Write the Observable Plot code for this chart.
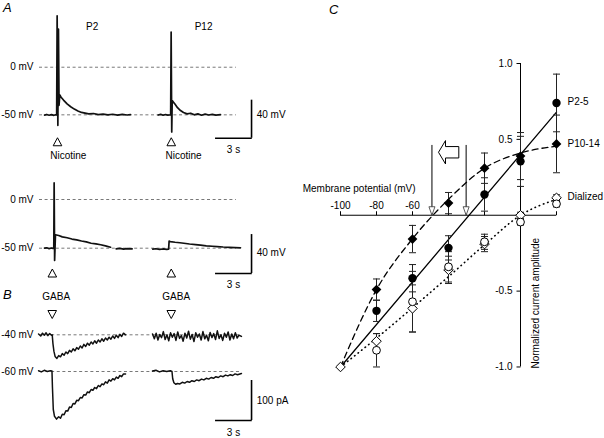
<!DOCTYPE html>
<html><head><meta charset="utf-8">
<script src="https://cdn.jsdelivr.net/npm/d3@7"></script>
<script src="https://cdn.jsdelivr.net/npm/@observablehq/plot@0.6"></script>
<style>
body{margin:0;background:#fff;}
#fig{position:relative;width:604px;height:438px;overflow:hidden;font-family:"Liberation Sans",Arial,sans-serif;background:#fff;}
.panel{position:absolute;font-style:italic;font-size:13px;line-height:1;}
</style></head><body>
<div id="fig">
<div class="panel" style="left:3px;top:1px">A</div>
<div class="panel" style="left:3px;top:288px">B</div>
<div class="panel" style="left:329px;top:3px">C</div>
</div>
<script>
// ---------- Panel A (membrane potential, mV; time, s) ----------
const aLevels = [0, -50];
const aLevelLabels = ["0 mV", "-50 mV"];
const aTopNames = ["P2", "P12"];
const aTopNameT = [4.39, 13.67];
const aTopStimT = [1.5, 10.98];
const aBotStimT = [1.07, 10.98];
const nicotineT = [2.4, 12.0];

const aTopP2T = [0.42,0.6,0.8,1.0,1.2,1.35,1.43,1.47,1.53,1.58,1.63,1.69,1.8,2.0,2.3,2.6,2.9,3.2,3.5,3.8,4.1,4.5,4.9,5.3,5.7,6.1,6.5,6.9,7.3,7.58];
const aTopP2V = [-50.3,-49.6,-50.4,-49.8,-50.5,-49.9,-50,54,-61,40,-40,-29,-31.5,-34.5,-38.5,-41.5,-44,-46,-47.5,-48.2,-49,-48.6,-49.8,-49.2,-50.1,-49.4,-50.3,-49.5,-50.2,-49.8];
const aTopP12T = [9.89,10.1,10.3,10.5,10.7,10.88,10.93,10.97,11.02,11.06,11.15,11.3,11.5,11.75,12.0,12.3,12.6,12.9,13.2,13.5,13.8,14.1,14.4,14.7,15.08];
const aTopP12V = [-50.2,-49.5,-50.4,-49.7,-50.3,-49.9,-50,37,-68,-35,-36.5,-39,-42.5,-45.5,-47.5,-49,-48.3,-50,-49,-50.4,-49.3,-50.2,-49.5,-50.3,-49.8];

const aBot1aT = [0.42,0.6,0.8,1.0,1.12,1.19,1.22,1.26,1.33,1.6,1.9,2.3,2.7,3.1,3.5,3.9,4.3,4.7,5.1,5.5,5.92];
const aBot1aV = [-50,-49.6,-50.4,-49.8,-50.2,-50,17,-62.6,-36.2,-37,-38.4,-39.3,-40.6,-41.4,-42.6,-43.5,-44.9,-45.6,-46.5,-47.6,-49];
const aBot1bT = [6.39,6.7,7.0,7.3,7.72];
const aBot1bV = [-50.7,-50.2,-51,-50.4,-50.8];
const aBot2T = [9.44,9.7,10.0,10.3,10.6,10.76,10.8,10.9,11.3,11.7,12.03,12.5,13.0,13.42,13.9,14.4,14.8,15.3,15.8,16.3,16.75];
const aBot2V = [-51,-50.6,-51.3,-50.8,-51.2,-51,-42.8,-43.2,-43.9,-44.4,-44.9,-45.7,-46.3,-46.9,-47.6,-48,-48.3,-48.8,-49.1,-49.4,-49.6];

// ---------- Panel B (current, pA; time, s) ----------
const gabaT = [1.06, 10.98];
const gabaLabelT = [1.39, 11.39];
const b40aT = [-0.08,0.1,0.25,0.4,0.55,0.7,0.85,1.0,1.06,1.12,1.2,1.3,1.45,1.6,1.75,1.9,2.05,2.2,2.35,2.5,2.65,2.8,2.95,3.1,3.25,3.4,3.55,3.7,3.85,4.0,4.15,4.3,4.45,4.6,4.75,4.9,5.05,5.2,5.35,5.5,5.65,5.8,5.95,6.1,6.25,6.4,6.55,6.7,6.85,7.0,7.17];
const b40aI = [2,-3,4,-1,5,-2,3,-1,0,-22,-41,-54,-59,-52,-55,-47,-51,-43,-47,-39,-43,-35,-40,-32,-36,-28,-33,-24,-29,-21,-26,-18,-23,-15,-21,-13,-18,-10,-16,-8,-13,-6,-11,-3,-9,-1,-7,1,-4,4,0];
const b40bT = [9.42,9.57,9.72,9.87,10.02,10.17,10.32,10.47,10.62,10.77,10.92,11.07,11.22,11.37,11.52,11.67,11.82,11.97,12.12,12.27,12.42,12.57,12.72,12.87,13.02,13.17,13.32,13.47,13.62,13.77,13.92,14.07,14.22,14.37,14.52,14.67,14.82,14.97,15.12,15.27,15.42,15.57,15.72,15.87,16.02,16.17,16.32,16.47,16.62,16.83];
const b40bI = [2,-10,4,-13,1,-7,8,-12,0,-15,5,-6,3,-14,7,-9,-2,-16,4,-8,9,-11,1,-17,5,-6,2,-13,8,-10,-1,-15,6,-7,3,-12,10,-9,0,-14,4,-6,7,-13,2,-10,5,-8,-1,-4];
const b60aT = [-0.08,0.15,0.4,0.65,0.9,1.04,1.08,1.15,1.25,1.42,1.6,1.75,1.9,2.05,2.2,2.35,2.5,2.65,2.8,2.95,3.1,3.25,3.4,3.55,3.7,3.85,4.0,4.15,4.3,4.45,4.6,4.75,4.9,5.05,5.2,5.35,5.5,5.65,5.8,5.95,6.1,6.25,6.4,6.55,6.7,6.85,7.0,7.17];
const b60aI = [2,-1,3,0,2,1,-40,-95,-112,-119,-113,-117,-107,-108,-98,-99,-89,-90,-80,-81,-72,-73,-65,-66,-58,-59,-51,-53,-45,-47,-40,-43,-35,-38,-31,-33,-26,-29,-21,-24,-18,-21,-14,-17,-10,-13,-6,-6];
const b60bT = [9.42,9.7,10.0,10.3,10.6,10.9,11.04,11.1,11.2,11.35,11.5,11.7,11.9,12.1,12.3,12.5,12.7,12.9,13.1,13.3,13.5,13.7,13.9,14.1,14.3,14.5,14.7,14.9,15.1,15.3,15.5,15.7,15.9,16.1,16.3,16.5,16.83];
const b60bI = [1,3,-1,2,0,2,0,-18,-28,-32,-30,-31,-27,-29,-25,-27,-23,-25,-21,-23,-19,-21,-17,-19,-15,-17,-13,-15,-11,-13,-9,-11,-8,-10,-6,-8,-5];

// ---------- Panel C (normalized current vs membrane potential) ----------
const cV = [-80,-60,-40,-20,0,20];
const p25Mean = [-0.63,-0.415,-0.215,0.137,0.355,0.74];
const p25Err = [0.07,0.09,0.08,0.11,0.165,0.19];
const p1014Mean = [-0.49,-0.157,0.08,0.31,0.39,0.47];
const p1014Err = [0.07,0.09,0.07,0.10,0.155,0.19];
const dialCircV = [-80,-60,-40,-20,0,20];
const dialCircMean = [-0.89,-0.57,-0.34,-0.175,-0.045,0.075];
const dialCircErr = [0.11,0.2,0.1,0.05,0.02,0.02];
const dialDiamV = [-100,-80,-60,-40,-20,0,20];
const dialDiamMean = [-1.0,-0.83,-0.614,-0.36,-0.19,0.0,0.115];
const dialDiamErr = [0,0.05,0.155,0.09,0.05,0.02,0.02];
const solidV = [-100, 20];
const solidY = [-1, 0.68];
const dashedV = [-100,-80,-60,-40,-20,0,20];
const dashedY = [-1,-0.49,-0.155,0.105,0.31,0.41,0.455];
const dottedV = [-100,-80,-60,-40,-20,0,20];
const dottedY = [-1,-0.81,-0.61,-0.405,-0.195,0,0.105];
const reversalV = [-49.2, -30.2];
const reversalTop = 0.46;
const seriesLabels = ["P2-5", "P10-14", "Dialized"];
const seriesLabelY = [0.745, 0.47, 0.119];
const xTickValues = [-100,-80,-60,-40,-20,20];
const xTickLabels = ["-100","-80","-60"];
const yTickValues = [1, 0.5, -0.5, -1];
const yTickLabels = ["1.0","0.5","-0.5","-1.0"];

// ---------- helpers ----------
function rows(ts, vs, k) {
  const n = Math.min(ts.length, vs.length), out = [];
  for (let i = 0; i < n; i++) out.push({t: ts[i], v: vs[i], k});
  return out;
}
const triUp = {draw(c){ c.moveTo(0,-4.5); c.lineTo(4.3,3.5); c.lineTo(-4.3,3.5); c.closePath(); }};
const triDown = {draw(c){ c.moveTo(0,4.5); c.lineTo(4.3,-3.5); c.lineTo(-4.3,-3.5); c.closePath(); }};
const arrowHead = {draw(c){ c.moveTo(0,0); c.lineTo(3,-8.5); c.lineTo(-3,-8.5); c.closePath(); }};
const capH = {draw(c){ c.moveTo(-3.5,0); c.lineTo(3.5,0); }};
const tickUp = {draw(c){ c.moveTo(0,0); c.lineTo(0,-4); }};
const tickLeft = {draw(c){ c.moveTo(0,0); c.lineTo(-4,0); }};
const blockArrow = {draw(c){ c.moveTo(-10,0); c.lineTo(-3,-11.7); c.lineTo(-3,-5.7); c.lineTo(10.3,-5.7); c.lineTo(10.3,5.7); c.lineTo(-3,5.7); c.lineTo(-3,11.7); c.closePath(); }};

const FONT = "'Liberation Sans', Arial, sans-serif";
const baseStyle = {background: "none", overflow: "visible", fontFamily: FONT, fontSize: "10px", color: "black"};
const fig = document.getElementById("fig");
function place(svg, left, top) {
  svg.style.position = "absolute";
  svg.style.left = left + "px";
  svg.style.top = top + "px";
  fig.appendChild(svg);
}
const dashStyle = {stroke: "#555", strokeWidth: 0.8, strokeDasharray: "3,2.6"};
const traceStyle = {x: "t", y: "v", z: "k", stroke: "#111", strokeWidth: 1.7, strokeLinejoin: "round"};
const xTime = {domain: [0, 18], axis: null};

// ---------- A top ----------
{
  const levelRows = aLevels.map((v, i) => ({v, label: aLevelLabels[i]}));
  const svg = Plot.plot({
    width: 300, height: 160, marginLeft: 39, marginRight: 45, marginTop: 9.6, marginBottom: 17.1,
    x: xTime, y: {domain: [-80, 60], axis: null}, style: baseStyle,
    marks: [
      Plot.ruleY(levelRows, {y: "v", x1: 0, x2: 16.4, ...dashStyle}),
      Plot.line([...rows(aTopP2T, aTopP2V, "P2"), ...rows(aTopP12T, aTopP12V, "P12")], traceStyle),
      Plot.text(levelRows, {x: -0.5, y: "v", text: "label", textAnchor: "end", fill: "black"}),
      Plot.text(aTopNames, {x: (d, i) => aTopNameT[i], y: 42.8, text: d => d, fill: "black"}),
      Plot.dot(aTopStimT, {x: d => d, y: -78.8, symbol: triUp, fill: "white", stroke: "black", strokeWidth: 1}),
      Plot.text(nicotineT, {x: d => d, y: -92.8, text: () => "Nicotine", fill: "black"}),
      Plot.ruleX([17.67], {y1: -74.6, y2: -34.6, stroke: "black", strokeWidth: 1.6}),
      Plot.ruleY([-74.6], {x1: 14.67, x2: 17.67 + 0.06, stroke: "black", strokeWidth: 1.6}),
      Plot.text(["40 mV"], {x: 18.1, y: -50, text: d => d, textAnchor: "start", fill: "black"}),
      Plot.text(["3 s"], {x: 16.17, y: -86.4, text: d => d, fill: "black"})
    ]
  });
  place(svg, 0, 0);
}
// ---------- A bottom ----------
{
  const levelRows = aLevels.map((v, i) => ({v, label: aLevelLabels[i]}));
  const svg = Plot.plot({
    width: 300, height: 140, marginLeft: 39, marginRight: 45, marginTop: 9.8, marginBottom: 23.1,
    x: xTime, y: {domain: [-80, 30], axis: null}, style: baseStyle,
    marks: [
      Plot.ruleY(levelRows, {y: "v", x1: 0, x2: 16.4, ...dashStyle}),
      Plot.line([...rows(aBot1aT, aBot1aV, "a"), ...rows(aBot1bT, aBot1bV, "b"), ...rows(aBot2T, aBot2V, "c")], traceStyle),
      Plot.text(levelRows, {x: -0.5, y: "v", text: "label", textAnchor: "end", fill: "black"}),
      Plot.dot(aBotStimT, {x: d => d, y: -76, symbol: triUp, fill: "white", stroke: "black", strokeWidth: 1}),
      Plot.ruleX([17.67], {y1: -76, y2: -36, stroke: "black", strokeWidth: 1.6}),
      Plot.ruleY([-76], {x1: 14.67, x2: 17.67 + 0.06, stroke: "black", strokeWidth: 1.6}),
      Plot.text(["40 mV"], {x: 18.1, y: -55.1, text: d => d, textAnchor: "start", fill: "black"}),
      Plot.text(["3 s"], {x: 16.17, y: -87.3, text: d => d, fill: "black"})
    ]
  });
  place(svg, 0, 160);
}
// ---------- B, -40 mV ----------
{
  const svg = Plot.plot({
    width: 300, height: 75, marginLeft: 39, marginRight: 45, marginTop: 4.3, marginBottom: 6.7,
    x: xTime, y: {domain: [-60, 100], axis: null}, style: baseStyle,
    marks: [
      Plot.ruleY([0], {x1: 0.08, x2: 16.75, ...dashStyle}),
      Plot.line([...rows(b40aT, b40aI, "a"), ...rows(b40bT, b40bI, "b")], {...traceStyle, strokeWidth: 1.5}),
      Plot.text(["-40 mV"], {x: -0.5, y: 0, text: d => d, textAnchor: "end", fill: "black"}),
      Plot.text(gabaLabelT, {x: d => d, y: 95.7, text: () => "GABA", fill: "black"}),
      Plot.dot(gabaT, {x: d => d, y: 52, symbol: triDown, fill: "white", stroke: "black", strokeWidth: 1})
    ]
  });
  place(svg, 0, 290);
}
// ---------- B, -60 mV ----------
{
  const svg = Plot.plot({
    width: 300, height: 73, marginLeft: 39, marginRight: 45, marginTop: 0, marginBottom: 7,
    x: xTime, y: {domain: [-150, 15], axis: null}, style: baseStyle,
    marks: [
      Plot.ruleY([0], {x1: 0.08, x2: 16.75, ...dashStyle}),
      Plot.line([...rows(b60aT, b60aI, "a"), ...rows(b60bT, b60bI, "b")], {...traceStyle, strokeWidth: 1.5}),
      Plot.text(["-60 mV"], {x: -0.5, y: 0, text: d => d, textAnchor: "end", fill: "black"}),
      Plot.ruleX([17.67], {y1: -122.5, y2: -22.5, stroke: "black", strokeWidth: 1.6}),
      Plot.ruleY([-122.5], {x1: 14.67, x2: 17.67 + 0.06, stroke: "black", strokeWidth: 1.6}),
      Plot.text(["100 pA"], {x: 18.1, y: -72.5, text: d => d, textAnchor: "start", fill: "black"}),
      Plot.text(["3 s"], {x: 16.17, y: -152.5, text: d => d, fill: "black"})
    ]
  });
  place(svg, 0, 365);
}
// ---------- C ----------
{
  function pts(V, M, E, key) { return V.map((v, i) => ({V: v, m: M[i], lo: M[i] - E[i], hi: M[i] + E[i], key})); }
  const p25 = pts(cV, p25Mean, p25Err, "p25");
  const p1014 = pts(cV, p1014Mean, p1014Err, "p1014");
  const dC = pts(dialCircV, dialCircMean, dialCircErr, "dc");
  const dD = pts(dialDiamV, dialDiamMean, dialDiamErr, "dd");
  const all = [...dD, ...dC, ...p1014, ...p25].filter(d => d.hi > d.lo);
  const caps = all.flatMap(d => [{V: d.V, y: d.lo}, {V: d.V, y: d.hi}]);
  const fit = (V, Y, k) => V.map((v, i) => ({V: v, y: Y[i], k}));
  const svg = Plot.plot({
    width: 304, height: 438, marginLeft: 40, marginRight: 48, marginTop: 63, marginBottom: 70,
    x: {domain: [-100, 20], axis: null}, y: {domain: [-1.01, 1], axis: null}, style: baseStyle,
    marks: [
      Plot.ruleY([0], {x1: -100, x2: 20, stroke: "black", strokeWidth: 1}),
      Plot.ruleX([0], {y1: -1, y2: 1, stroke: "black", strokeWidth: 1}),
      Plot.dot(xTickValues, {x: d => d, y: 0, symbol: tickUp, stroke: "black", fill: "none", strokeWidth: 1}),
      Plot.dot(yTickValues, {x: 0, y: d => d, symbol: tickLeft, stroke: "black", fill: "none", strokeWidth: 1}),
      Plot.text(xTickLabels, {x: d => +d, y: 0, dy: -9, text: d => d, fill: "black"}),
      Plot.text(yTickLabels, {x: 0, y: (d, i) => yTickValues[i], dx: -8, text: d => d, textAnchor: "end", fill: "black"}),
      Plot.line(fit(dottedV, dottedY, "dot"), {x: "V", y: "y", curve: "monotone-x", stroke: "black", strokeWidth: 1.6, strokeDasharray: "0.5,4", strokeLinecap: "round"}),
      Plot.line(fit(dashedV, dashedY, "dash"), {x: "V", y: "y", curve: "monotone-x", stroke: "black", strokeWidth: 1.3, strokeDasharray: "6,4"}),
      Plot.line(fit(solidV, solidY, "solid"), {x: "V", y: "y", stroke: "black", strokeWidth: 1.3}),
      Plot.ruleX(reversalV, {x: d => d, y1: 0, y2: reversalTop, stroke: "black", strokeWidth: 1}),
      Plot.dot(reversalV, {x: d => d, y: 0, symbol: arrowHead, fill: "white", stroke: "#333", strokeWidth: 0.8}),
      Plot.dot([0.415], {x: -40, y: d => d, symbol: blockArrow, fill: "white", stroke: "black", strokeWidth: 1}),
      Plot.ruleX(all, {x: "V", y1: "lo", y2: "hi", stroke: "#222", strokeWidth: 1}),
      Plot.dot(caps, {x: "V", y: "y", symbol: capH, stroke: "#222", fill: "none", strokeWidth: 1}),
      Plot.dot(dD, {x: "V", y: "m", symbol: "diamond2", r: 4.3, fill: "white", stroke: "black", strokeWidth: 1}),
      Plot.dot(dC, {x: "V", y: "m", symbol: "circle", r: 3.9, fill: "white", stroke: "black", strokeWidth: 1}),
      Plot.dot(p1014, {x: "V", y: "m", symbol: "diamond2", r: 4.4, fill: "black", stroke: "none"}),
      Plot.dot(p25, {x: "V", y: "m", symbol: "circle", r: 4.2, fill: "black", stroke: "none"}),
      Plot.text(seriesLabels, {x: 26.1, y: (d, i) => seriesLabelY[i], text: d => d, textAnchor: "start", fill: "black"}),
      Plot.text(["Membrane potential (mV)"], {x: -58.3, y: 0.176, text: d => d, textAnchor: "end", fill: "black"}),
      Plot.text(["Normalized current amplitude"], {x: 8.7, y: -1.01, text: d => d, rotate: -90, textAnchor: "start", fill: "black"})
    ]
  });
  place(svg, 300, 0);
}
</script>
</body></html>
